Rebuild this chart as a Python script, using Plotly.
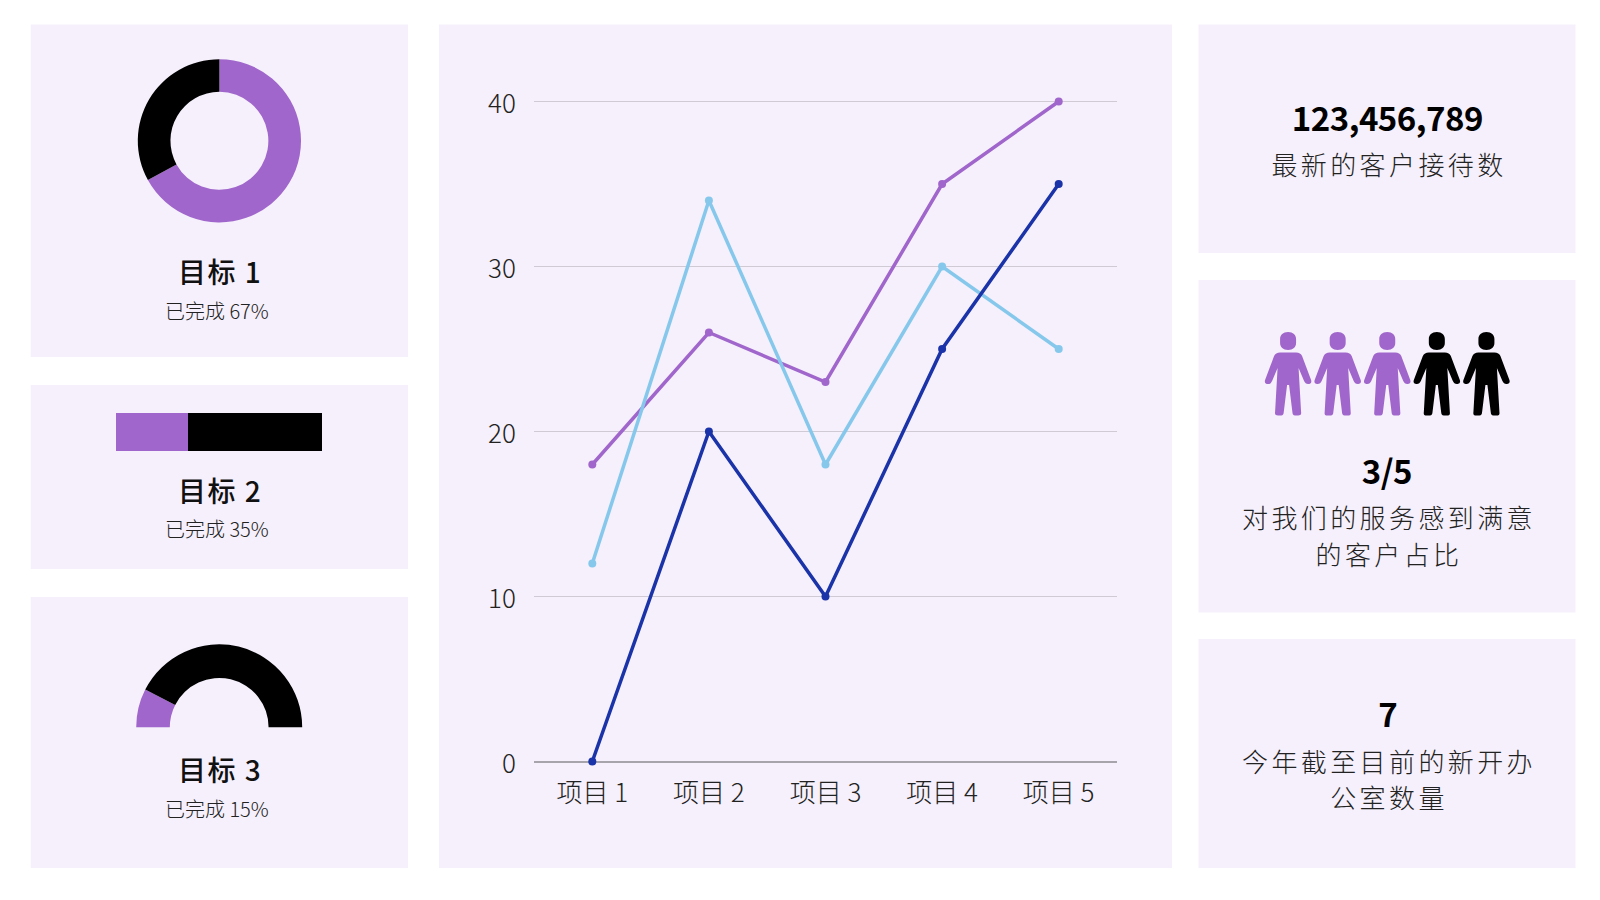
import plotly.graph_objects as go

W, H = 1600, 900
PANEL = "#F5F0FB"
PURPLE = "#A066CB"
BLACK = "#000000"
DARKBLUE = "#1A33A8"
LIGHTBLUE = "#86C8EC"
FONT = "Noto Sans CJK SC"

# ---- data ----
categories = ["项目 1", "项目 2", "项目 3", "项目 4", "项目 5"]
series_purple = [18, 26, 23, 35, 40]
series_light = [12, 34, 18, 30, 25]
series_dark = [0, 20, 10, 25, 35]
y_ticks = [0, 10, 20, 30, 40]
goal1_done = 67
goal2_done = 35
goal3_done = 15
people_total = 5
people_happy = 3


def fx(px):
    return px / W


def fy(px):
    return 1 - px / H


def dom_x(a, b):
    return [fx(a), fx(b)]


def dom_y(top, bottom):
    return [fy(bottom), fy(top)]


panels = [
    (30.7, 24.5, 408, 357),
    (30.7, 385, 408, 569),
    (30.7, 597, 408, 868),
    (439, 24.5, 1172, 868),
    (1198.5, 24.5, 1575.5, 253),
    (1198.5, 280, 1575.5, 612.5),
    (1198.5, 639, 1575.5, 868),
]
shapes = [
    dict(type="rect", xref="paper", yref="paper", x0=fx(a), x1=fx(c), y0=fy(b), y1=fy(d),
         fillcolor=PANEL, line_width=0, layer="below")
    for a, b, c, d in panels
]

fig = go.Figure()

# donut
r = 81.6
cx, cy = 219.4, 140.8
fig.add_trace(go.Pie(values=[goal1_done, 100 - goal1_done], sort=False, direction="clockwise", rotation=0,
                     hole=0.6, textinfo="none", hoverinfo="skip", showlegend=False,
                     marker=dict(colors=[PURPLE, BLACK], line=dict(width=0)),
                     domain=dict(x=dom_x(cx - r, cx + r), y=dom_y(cy - r, cy + r))))

# half donut
r = 83
cx, cy = 219.2, 727.3
fig.add_trace(go.Pie(values=[goal3_done, 100 - goal3_done, 100], sort=False, direction="clockwise", rotation=270,
                     hole=0.595, textinfo="none", hoverinfo="skip", showlegend=False,
                     marker=dict(colors=[PURPLE, BLACK, "rgba(0,0,0,0)"], line=dict(width=0)),
                     domain=dict(x=dom_x(cx - r, cx + r), y=dom_y(cy - r, cy + r))))

# line chart
for vals, col in [(series_purple, PURPLE), (series_light, LIGHTBLUE), (series_dark, DARKBLUE)]:
    fig.add_trace(go.Scatter(x=categories, y=vals, mode="lines+markers", cliponaxis=False,
                             line=dict(color=col, width=3.5), marker=dict(color=col, size=8),
                             showlegend=False, xaxis="x", yaxis="y"))

# stacked progress bar
fig.add_trace(go.Bar(x=[goal2_done], y=[0], orientation="h", marker=dict(color=PURPLE, line_width=0),
                     showlegend=False, xaxis="x2", yaxis="y2", hoverinfo="skip"))
fig.add_trace(go.Bar(x=[100 - goal2_done], y=[0], orientation="h", marker=dict(color=BLACK, line_width=0),
                     showlegend=False, xaxis="x2", yaxis="y2", hoverinfo="skip"))

# pictogram: one person icon per unit, anchored on a hidden axis
person_x = list(range(1, people_total + 1))
fig.add_trace(go.Scatter(x=person_x, y=[0] * people_total, mode="none", showlegend=False,
                         hoverinfo="skip", xaxis="x3", yaxis="y3"))
# icon outline in pixels relative to the anchor: x right, y up
PERSON = ("M0,9 C-5,9 -8,6 -8,2 L-8,-2 C-8,-6 -5,-9 0,-9 C5,-9 8,-6 8,-2 L8,2 C8,6 5,9 0,9 Z "
          "M-8,-11.5 L8,-11.5 C11,-11.5 13,-13 14,-15 L23,-39 C24,-42 22,-43 20,-43 C18,-43 17,-42 16,-40 L10.5,-27 "
          "L13,-71 C13.5,-74 12,-74.5 10,-74.5 L7,-74.5 C5,-74.5 4.5,-73 4.3,-71 L1,-44 L-1,-44 L-4.3,-71 "
          "C-4.5,-73 -5,-74.5 -7,-74.5 L-10,-74.5 C-12,-74.5 -13.5,-74 -13,-71 L-10.5,-27 L-16,-40 "
          "C-17,-42 -18,-43 -20,-43 C-22,-43 -24,-42 -23,-39 L-14,-15 C-13,-13 -11,-11.5 -8,-11.5 Z")
for i in person_x:
    shapes.append(dict(type="path", xref="x3", yref="y3", xsizemode="pixel", ysizemode="pixel",
                       xanchor=i, yanchor=0, path=PERSON, line_width=0,
                       fillcolor=PURPLE if i <= people_happy else BLACK))

# text
TITLE = "#111111"
BODY = "#222222"
texts = [
    ("目标 1", 220, 271, 28, 500, TITLE),
    (f"已完成 {goal1_done}%", 217.5, 310, 20, 300, BODY),
    ("目标 2", 220, 489.5, 28, 500, TITLE),
    (f"已完成 {goal2_done}%", 217.5, 528.5, 20, 300, BODY),
    ("目标 3", 220, 769, 28, 500, TITLE),
    (f"已完成 {goal3_done}%", 217.5, 808, 20, 300, BODY),
    ("123,456,789", 1387, 116.5, 33, 700, BLACK),
    ("最新的客户接待数", 1388.5, 163, 26, 300, BODY),
    (f"{people_happy}/{people_total}", 1387, 470, 33, 700, BLACK),
    ("对我们的服务感到满意", 1388.5, 516, 26, 300, BODY),
    ("的客户占比", 1388.5, 553, 26, 300, BODY),
    ("7", 1387, 713, 33, 700, BLACK),
    ("今年截至目前的新开办", 1388.5, 760, 26, 300, BODY),
    ("公室数量", 1388.5, 796, 26, 300, BODY),
]
annotations = [
    dict(text=t, xref="paper", yref="paper", x=fx(x), y=fy(y), xanchor="center", yanchor="middle",
         showarrow=False, font=dict(family=FONT, size=s, weight=w, color=c))
    for t, x, y, s, w, c in texts
]

hidden = dict(visible=False, fixedrange=True)
fig.update_layout(
    width=W, height=H, margin=dict(l=0, r=0, t=0, b=0, pad=0, autoexpand=False), autosize=False,
    paper_bgcolor="white", plot_bgcolor="rgba(0,0,0,0)",
    font=dict(family=FONT), barmode="stack", bargap=0,
    shapes=shapes, annotations=annotations,
    xaxis=dict(domain=dom_x(534, 1117), type="category", range=[-0.5, 4.5], showgrid=False,
               showline=False, ticks="outside", ticklen=5, tickcolor="rgba(0,0,0,0)",
               tickfont=dict(family=FONT, size=26, weight=300, color=BODY), anchor="y", zeroline=False),
    yaxis=dict(domain=dom_y(98.2, 764.8), range=[-0.2, 40.2], tickvals=y_ticks, gridcolor="#CFCAD4", gridwidth=1,
               showline=False, zeroline=True, zerolinecolor="#A8A4AC", zerolinewidth=1.5,
               ticks="outside", ticklen=12, tickcolor="rgba(0,0,0,0)", ticklabelshift=2,
               tickfont=dict(family=FONT, size=26, weight=300, color=BODY), anchor="x"),
    xaxis2=dict(domain=dom_x(116, 322), range=[0, 100], anchor="y2", **hidden),
    yaxis2=dict(domain=dom_y(413, 451), range=[-0.5, 0.5], anchor="x2", **hidden),
    xaxis3=dict(domain=dom_x(1238.5, 1536), range=[0, people_total + 1], anchor="y3", **hidden),
    yaxis3=dict(domain=dom_y(321, 431), range=[-4.5, 1], anchor="x3", **hidden),
)

post = """
document.body.style.margin='0';
document.querySelectorAll('.annotation-text').forEach(function(t){
  if(t.style.fontSize==='26px'){t.style.letterSpacing='3.4px';}
  if(t.style.fontSize==='28px'){t.style.letterSpacing='1.5px';}
  if(t.style.fontSize==='33px'){t.style.letterSpacing='-0.5px';}
});
"""
fig.write_html("out.html", post_script=post, config=dict(displayModeBar=False))
